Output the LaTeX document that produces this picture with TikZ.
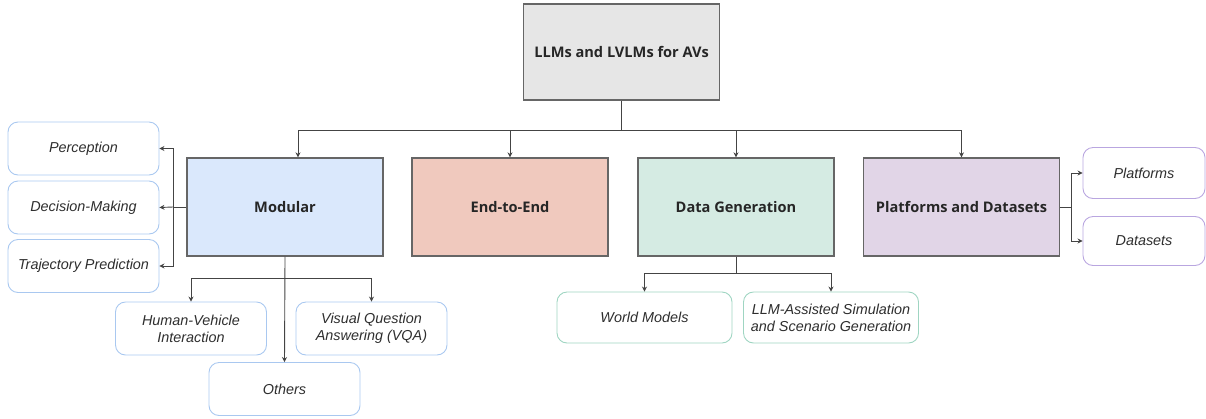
\documentclass[tikz,border=0pt]{standalone}
\usepackage{xcolor}
\usepackage{fontspec}
\setmainfont{Liberation Sans}
\newfontfamily\headfont{Open Sans}
\definecolor{boxline}{HTML}{666666}
\definecolor{arrline}{HTML}{444444}
\definecolor{rootfill}{HTML}{E6E6E6}
\definecolor{modfill}{HTML}{DAE8FC}
\definecolor{endfill}{HTML}{F0C9BE}
\definecolor{genfill}{HTML}{D5EBE3}
\definecolor{platfill}{HTML}{E1D5E7}
\definecolor{modline}{HTML}{A9C8F0}
\definecolor{genline}{HTML}{9FD5C2}
\definecolor{platline}{HTML}{B9A6E0}
\usetikzlibrary{arrows.meta}

\begin{document}
\begin{tikzpicture}[x=1pt, y=-1pt,
    mainbox/.style={draw=boxline, line width=1.3pt, minimum width=196pt, minimum height=98pt, inner sep=0pt,
      font=\headfont\bfseries\fontsize{14.6}{17}\selectfont, text=black!85},
    subbox/.style={draw, rounded corners=10pt, line width=0.9pt, minimum width=151pt, minimum height=53pt, inner sep=0pt,
      align=center, font=\itshape\fontsize{14.4}{17}\selectfont, text=black!82},
    arr/.style={draw=arrline, line width=0.9pt, -{Stealth[length=5pt,width=5pt]}},
    wire/.style={draw=arrline, line width=0.9pt}]
  \useasboundingbox (0,0) rectangle (1206,418);

  % top level
  \node[mainbox, fill=rootfill, minimum height=96pt] (root) at (621.5,52) {LLMs and LVLMs for AVs};
  \node[mainbox, fill=modfill] (mod) at (285,207) {Modular};
  \node[mainbox, fill=endfill] (e2e) at (510,207) {End-to-End};
  \node[mainbox, fill=genfill] (gen) at (736,207) {Data Generation};
  \node[mainbox, fill=platfill] (plat) at (961.5,207) {Platforms and Datasets};

  % modular branches
  \node[subbox, draw=modline] (perc) at (83.5,148.5) {Perception};
  \node[subbox, draw=modline] (dec) at (83.5,207.5) {Decision-Making};
  \node[subbox, draw=modline] (traj) at (83.5,266) {Trajectory Prediction};
  \node[subbox, draw=modline] (hvi) at (191,328.5) {Human-Vehicle\\Interaction};
  \node[subbox, draw=modline] (vqa) at (371.5,328.5) {Visual Question\\Answering (VQA)};
  \node[subbox, draw=modline] (oth) at (284.5,389) {Others};

  % data generation branches
  \node[subbox, draw=genline, minimum width=175pt, minimum height=51pt] (wm) at (644.5,317.5) {World Models};
  \node[subbox, draw=genline, minimum width=175pt, minimum height=51pt] (sim) at (831,317.5) {LLM-Assisted Simulation\\and Scenario Generation};

  % platform branches
  \node[subbox, draw=platline, minimum width=122pt, minimum height=51pt] (pf) at (1144,173) {Platforms};
  \node[subbox, draw=platline, minimum width=122pt, minimum height=49pt] (ds) at (1144,241) {Datasets};

  % connectors
  \coordinate (bus) at (621.5,130);
  \draw[wire] (root.south) -- (bus);
  \draw[arr] (bus) -| ([xshift=13pt]mod.north);
  \draw[arr] (bus) -| (e2e.north);
  \draw[arr] (bus) -| (gen.north);
  \draw[arr] (bus) -| (plat.north);

  \coordinate (mleft) at (173,207);
  \draw[wire] (mod.west) -- (mleft);
  \draw[arr] (mleft) -- (dec.east);
  \draw[arr] (mleft) |- (perc.east);
  \draw[arr] (mleft) |- (traj.east);

  \coordinate (mdown) at (285,278);
  \draw[arr] (mod.south) -- (oth.north);
  \draw[arr] (mdown) -| (hvi.north);
  \draw[arr] (mdown) -| (vqa.north);

  \coordinate (gdown) at (736,273);
  \draw[wire] (gen.south) -- (gdown);
  \draw[arr] (gdown) -| (wm.north);
  \draw[arr] (gdown) -| (sim.north);

  \coordinate (pright) at (1071,207);
  \draw[wire] (plat.east) -- (pright);
  \draw[arr] (pright) |- (pf.west);
  \draw[arr] (pright) |- (ds.west);
\end{tikzpicture}
\end{document}
